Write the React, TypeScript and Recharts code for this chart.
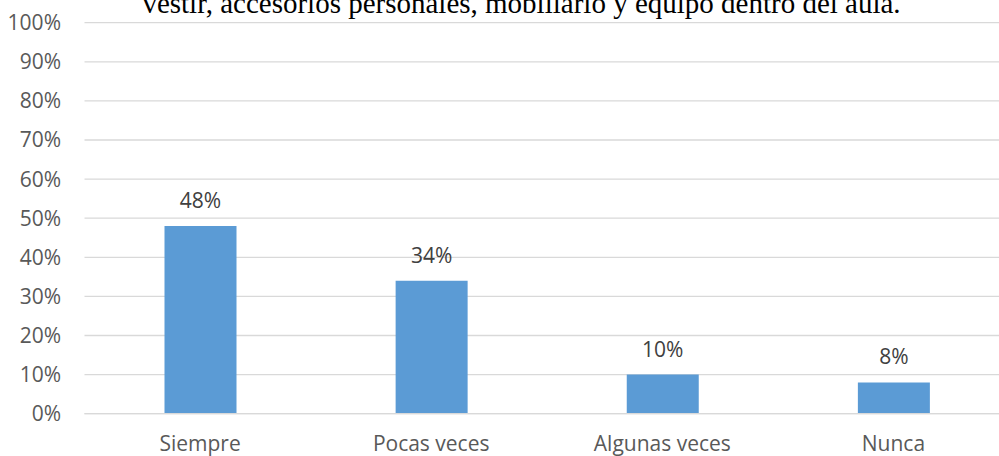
import { BarChart, Bar, XAxis, YAxis, CartesianGrid, LabelList } from "recharts";

const categories = ["Siempre", "Pocas veces", "Algunas veces", "Nunca"];
const values = [0.48, 0.34, 0.1, 0.08];
const yTicks = [0, 0.1, 0.2, 0.3, 0.4, 0.5, 0.6, 0.7, 0.8, 0.9, 1];
const title = "vestir, accesorios personales, mobiliario y equipo dentro del aula.";

const data = categories.map((name, i) => ({ name, value: values[i] }));

const pct = (v: number) => `${Math.round(v * 100)}%`;
const font = "'Open Sans', sans-serif";

export default function App() {
  return (
    <div
      style={{
        position: "absolute",
        left: 0,
        top: 0,
        width: 999,
        height: 456,
        overflow: "hidden",
        background: "#fff",
      }}
    >
      <BarChart
        width={1009}
        height={456}
        data={data}
        margin={{ top: 22.7, right: 0, left: 0, bottom: 0 }}
      >
        <CartesianGrid vertical={false} stroke="#d9d9d9" strokeWidth={1.3} />
        <XAxis
          dataKey="name"
          height={42.3}
          tickLine={false}
          tickSize={0}
          tickMargin={22}
          axisLine={{ stroke: "#d9d9d9", strokeWidth: 1.3 }}
          tick={{ fill: "#595959", fontSize: 21, fontFamily: font }}
        />
        <YAxis
          width={84.5}
          domain={[0, 1]}
          ticks={yTicks}
          interval={0}
          tickFormatter={pct}
          axisLine={false}
          tickLine={false}
          tickSize={0}
          tickMargin={23.5}
          tick={{ fill: "#595959", fontSize: 21, fontFamily: font }}
        />
        <Bar dataKey="value" fill="#5b9bd5" barSize={72} isAnimationActive={false}>
          <LabelList
            dataKey="value"
            position="top"
            offset={18}
            formatter={(v: number) => pct(v)}
            style={{ fill: "#404040", fontSize: 21, fontFamily: font }}
          />
        </Bar>
      </BarChart>
      <svg
        width={999}
        height={40}
        style={{ position: "absolute", left: 0, top: 0, pointerEvents: "none" }}
      >
        <text
          x={521.5}
          y={12.5}
          textAnchor="middle"
          fontFamily="'Liberation Serif', 'Times New Roman', serif"
          fontSize={29}
          fill="#000"
        >
          {title}
        </text>
      </svg>
    </div>
  );
}
